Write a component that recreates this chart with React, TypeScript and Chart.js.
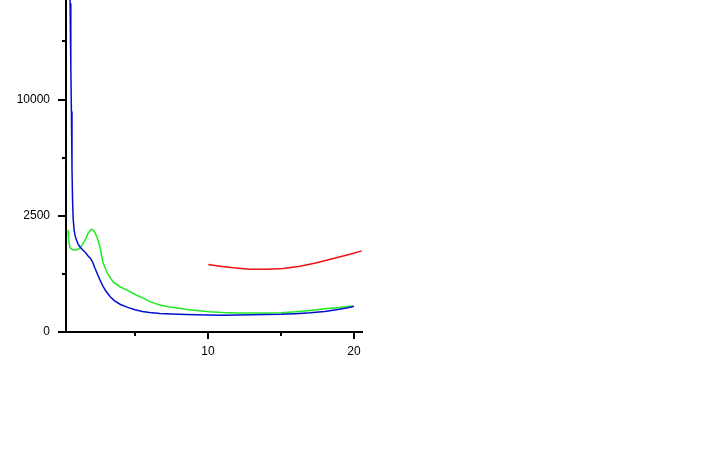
import React, { useEffect, useRef } from 'react';
import { Chart, registerables, LinearScale } from 'chart.js';

// ---- data ----
const blueX = [0.50, 0.55, 0.60, 0.64, 0.68, 0.72, 0.76, 0.82, 0.90, 1.0, 1.1, 1.25, 1.4, 1.6, 1.8, 1.95, 2.1, 2.25, 2.4, 2.6, 2.8, 3.0, 3.3, 3.6, 4.0, 4.5, 5.0, 5.5, 6.0, 6.7, 7.5, 8.5, 10, 11, 12, 13, 14, 15, 16, 17, 18, 19, 19.6, 20.0];
const blueY = [30000, 20000, 13000, 9000, 5000, 3200, 2400, 1950, 1700, 1550, 1430, 1330, 1250, 1170, 1060, 1000, 900, 760, 640, 500, 390, 310, 230, 180, 140, 112, 92, 78, 70, 64, 60, 56, 53, 52, 54, 55, 57, 58, 62, 68, 78, 95, 108, 122];

const greenX = [0.41, 0.44, 0.48, 0.55, 0.7, 0.89, 1.05, 1.23, 1.4, 1.58, 1.78, 1.99, 2.1, 2.2, 2.4, 2.6, 2.8, 3.08, 3.5, 4.0, 4.45, 5.0, 5.55, 6.1, 6.7, 7.3, 7.9, 8.7, 10.1, 11, 12, 13, 14, 15, 16, 17, 18, 19, 19.9];
const greenY = [1920, 1650, 1450, 1310, 1260, 1240, 1260, 1300, 1420, 1560, 1800, 1950, 1940, 1880, 1660, 1330, 900, 650, 465, 375, 325, 260, 213, 165, 135, 118, 106, 92, 75, 70, 67, 66, 66, 68, 75, 86, 100, 112, 125];

const redX = [10.02, 10.82, 11.73, 12.88, 14.02, 15.16, 16.3, 17.45, 18.58, 19.73, 20.53];
const redY = [844, 802, 762, 731, 731, 747, 802, 885, 1000, 1121, 1218];

const xTickLabels = [10, 20];
const xMinorTicks = [5, 15];
const yTickLabels = [0, 2500, 10000];
const yMinorTicks = [625, 5625, 15625];

const xMin = 0.27;
const xMax = 20.55;
const yMin = 0;
const yMax = 20400;

class SqrtScale extends LinearScale {
  static id = 'sqrt';
  static defaults = LinearScale.defaults;
  buildTicks() {
    return yTickLabels.map((v) => ({ value: v }));
  }
  getPixelForValue(value: any) {
    if (value === null || value === undefined || isNaN(value)) return NaN;
    const lo = Math.sqrt(this.min);
    const hi = Math.sqrt(this.max);
    return this.getPixelForDecimal((Math.sqrt(Math.max(0, value)) - lo) / (hi - lo));
  }
  getValueForPixel(pixel: number) {
    const lo = Math.sqrt(this.min);
    const hi = Math.sqrt(this.max);
    const s = lo + this.getDecimalForPixel(pixel) * (hi - lo);
    return s * s;
  }
}

Chart.register(...registerables, SqrtScale);

const toPoints = (xs: number[], ys: number[]) => xs.map((x, i) => ({ x, y: ys[i] }));

const tickPlugin = {
  id: 'customTicks',
  afterDraw(chart: any) {
    const ctx = chart.ctx;
    const xs = chart.scales.x;
    const ys = chart.scales.y;
    const { left, bottom } = chart.chartArea;
    ctx.save();
    ctx.strokeStyle = '#000';
    ctx.lineWidth = 2;
    ctx.beginPath();
    xTickLabels.forEach((v) => {
      const p = Math.round(xs.getPixelForValue(v));
      ctx.moveTo(p, bottom);
      ctx.lineTo(p, bottom + 7);
    });
    xMinorTicks.forEach((v) => {
      const p = Math.round(xs.getPixelForValue(v));
      ctx.moveTo(p, bottom);
      ctx.lineTo(p, bottom + 4);
    });
    yTickLabels.forEach((v) => {
      const p = Math.round(ys.getPixelForValue(v));
      ctx.moveTo(left - 8, p);
      ctx.lineTo(left, p);
    });
    yMinorTicks.forEach((v) => {
      const p = Math.round(ys.getPixelForValue(v));
      ctx.moveTo(left - 4, p);
      ctx.lineTo(left, p);
    });
    ctx.stroke();
    ctx.restore();
  },
};

export default function App() {
  const ref = useRef<HTMLCanvasElement>(null);
  useEffect(() => {
    if (!ref.current) return;
    const font = { family: 'Liberation Sans, Arial, sans-serif', size: 12 };
    const chart = new Chart(ref.current, {
      type: 'line',
      data: {
        datasets: [
          { data: toPoints(blueX, blueY), borderColor: '#0010d0', borderWidth: 1.5, pointRadius: 0, tension: 0 },
          { data: toPoints(greenX, greenY), borderColor: '#22ea22', borderWidth: 1.5, pointRadius: 0, tension: 0 },
          { data: toPoints(redX, redY), borderColor: '#f01010', borderWidth: 1.5, pointRadius: 0, tension: 0 },
        ],
      },
      options: {
        responsive: false,
        animation: false,
        layout: { padding: { left: 0, top: 0, right: 358, bottom: 0 } },
        plugins: { legend: { display: false }, tooltip: { enabled: false } },
        scales: {
          x: {
            type: 'linear',
            min: xMin,
            max: xMax,
            afterFit: (s: any) => { s.height = 118; s.paddingLeft = 0; s.paddingRight = 0; },
            afterBuildTicks: (s: any) => { s.ticks = xTickLabels.map((v) => ({ value: v })); },
            grid: { display: true, drawOnChartArea: false, drawTicks: false },
            border: { display: true, color: '#000', width: 2 },
            ticks: { color: '#000', font, padding: 12, maxRotation: 0, autoSkip: false, callback: (v: any) => String(v) },
          },
          y: {
            type: 'sqrt',
            min: yMin,
            max: yMax,
            afterFit: (s: any) => { s.width = 66; s.paddingTop = 0; s.paddingBottom = 0; },
            grid: { display: true, drawOnChartArea: false, drawTicks: false },
            border: { display: true, color: '#000', width: 2 },
            ticks: { color: '#000', font, padding: 16, autoSkip: false, callback: (v: any) => String(v) },
          },
        },
      },
      plugins: [tickPlugin],
    } as any);
    return () => chart.destroy();
  }, []);
  return (
    <canvas
      ref={ref}
      width={720}
      height={450}
      style={{ position: 'absolute', left: 0, top: 0, width: 720, height: 450, display: 'block' }}
    />
  );
}
